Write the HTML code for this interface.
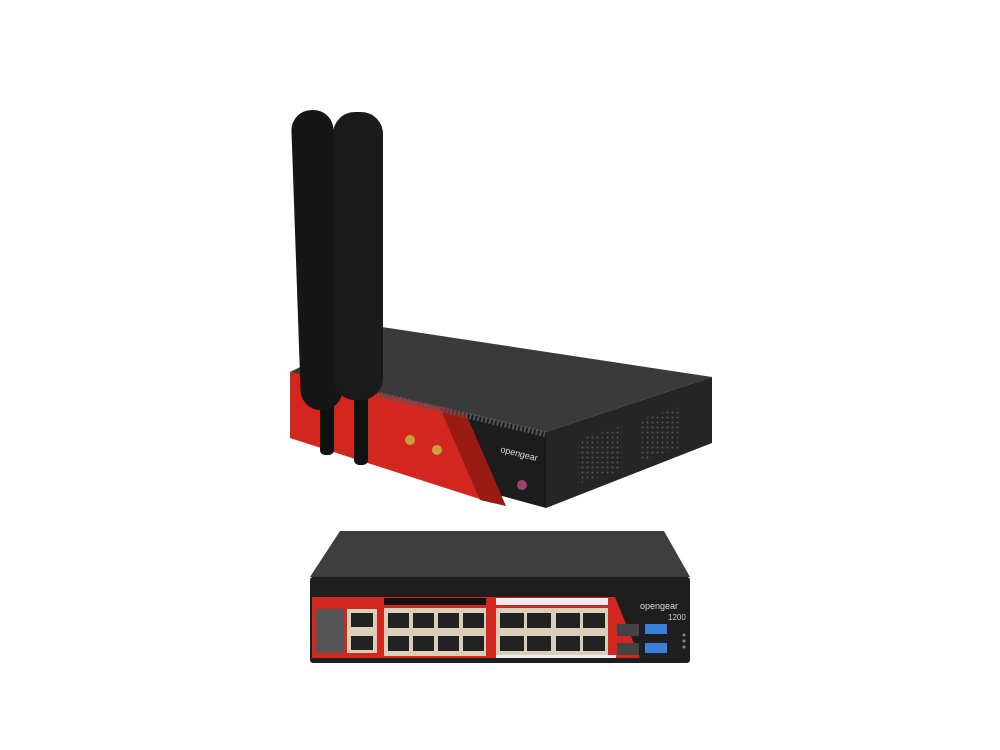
<!DOCTYPE html>
<html><head><style>body{margin:0;background:#fff}svg{display:block}</style></head><body>
<svg width="1000" height="750" viewBox="0 0 1000 750" xmlns="http://www.w3.org/2000/svg" font-family="Liberation Sans, sans-serif">
<defs>
<pattern id="v" width="5" height="5" patternUnits="userSpaceOnUse"><circle cx="2.5" cy="2.5" r="1" fill="#555"/></pattern>
</defs>
<rect width="1000" height="750" fill="#fff"/>
<!-- Upper device -->
<polygon points="382,327 712,377 546,432 290,372" fill="#3a3a3a"/>
<polygon points="546,432 712,377 712,443 546,508" fill="#252525"/>
<polygon points="290,372 546,432 546,508 290,438" fill="#1c1c1c"/>
<polygon points="290,372 452,410 492,503 290,438" fill="#d3261e"/>
<polygon points="440,408 466,414 506,506 480,500" fill="#9a1a14"/>
<polygon points="578,440 622,426 622,470 578,484" fill="url(#v)"/>
<polygon points="640,420 680,407 680,448 640,461" fill="url(#v)"/>
<line x1="380" y1="395" x2="545" y2="434" stroke="#555" stroke-width="6" stroke-dasharray="2,2"/>
<text x="500" y="452" fill="#ddd" font-size="9" transform="rotate(14 500 452)">opengear</text>
<circle cx="522" cy="485" r="5" fill="#a04070"/>
<circle cx="410" cy="440" r="5" fill="#c8a040"/>
<circle cx="437" cy="450" r="5" fill="#c8a040"/>
<!-- antennas -->
<rect x="320" y="380" width="14" height="75" rx="5" fill="#111"/>
<rect x="354" y="395" width="14" height="70" rx="5" fill="#111"/>
<rect x="296" y="110" width="42" height="300" rx="20" fill="#161616" transform="rotate(-2 317 260)"/>
<rect x="333" y="112" width="50" height="288" rx="22" fill="#1a1a1a"/>
<!-- Lower device -->
<polygon points="340,531 664,531 690,577 310,577" fill="#3e3e3e"/>
<rect x="310" y="577" width="380" height="86" rx="3" fill="#1e1e1e"/>
<polygon points="312,597 615,597 640,658 312,658" fill="#d3261e"/>
<g fill="#d9ceb8">
<rect x="316" y="609" width="28" height="44" fill="#555"/>
<rect x="347" y="609" width="30" height="44"/>
<rect x="384" y="608" width="102" height="48"/>
<rect x="496" y="608" width="112" height="48"/>
</g>
<g fill="#222">
<rect x="351" y="613" width="22" height="14"/><rect x="351" y="636" width="22" height="14"/>
<rect x="388" y="613" width="21" height="15"/><rect x="413" y="613" width="21" height="15"/><rect x="438" y="613" width="21" height="15"/><rect x="463" y="613" width="21" height="15"/>
<rect x="388" y="636" width="21" height="15"/><rect x="413" y="636" width="21" height="15"/><rect x="438" y="636" width="21" height="15"/><rect x="463" y="636" width="21" height="15"/>
<rect x="500" y="613" width="24" height="15"/><rect x="527" y="613" width="24" height="15"/><rect x="556" y="613" width="24" height="15"/><rect x="583" y="613" width="22" height="15"/>
<rect x="500" y="636" width="24" height="15"/><rect x="527" y="636" width="24" height="15"/><rect x="556" y="636" width="24" height="15"/><rect x="583" y="636" width="22" height="15"/>
</g>
<rect x="384" y="598" width="102" height="7" fill="#111"/>
<rect x="496" y="598" width="112" height="7" fill="#eee"/>
<rect x="496" y="655" width="120" height="3" fill="#eee"/>
<rect x="617" y="624" width="22" height="12" fill="#444"/>
<rect x="617" y="643" width="22" height="12" fill="#444"/>
<rect x="645" y="624" width="22" height="10" fill="#3a7fd8"/>
<rect x="645" y="643" width="22" height="10" fill="#3a7fd8"/>
<circle cx="684" cy="635" r="1.5" fill="#888"/><circle cx="684" cy="641" r="1.5" fill="#888"/><circle cx="684" cy="647" r="1.5" fill="#888"/>
<text x="640" y="609" fill="#ddd" font-size="9">opengear</text>
<text x="668" y="620" fill="#ccc" font-size="8">1200</text>
</svg>
</body></html>
